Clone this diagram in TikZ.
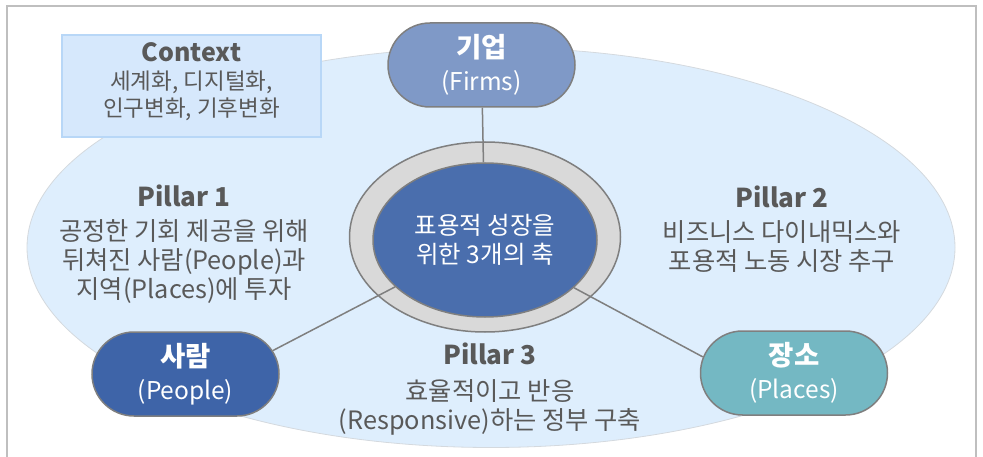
\documentclass[tikz,border=0pt]{standalone}
\usepackage{fontspec}
\setmainfont{Noto Sans CJK KR}
\usepackage{xcolor}
\usetikzlibrary{shapes.geometric, shapes.misc, positioning}

\definecolor{framegray}{HTML}{BFBFBF}
\definecolor{linegray}{HTML}{7F7F7F}
\definecolor{fieldblue}{HTML}{DEEEFD}
\definecolor{fieldline}{HTML}{D4D9DE}
\definecolor{ctxfill}{HTML}{D6E8FC}
\definecolor{ctxline}{HTML}{B8D7F7}
\definecolor{firmblue}{HTML}{7F99C7}
\definecolor{peopleblue}{HTML}{3E64A8}
\definecolor{coreblue}{HTML}{4A6EAD}
\definecolor{placeteal}{HTML}{74B8C3}
\definecolor{ringgray}{HTML}{D9D9D9}
\definecolor{txtgray}{HTML}{595959}

\newcommand{\pilhead}[1]{{\fontsize{26}{29}\selectfont\bfseries #1}}
\newcommand{\boxhead}[1]{{\fontsize{27.5}{28}\selectfont\bfseries #1}}

\tikzset{
    pillbox/.style={rounded rectangle, draw=linegray, line width=1.5pt, minimum width=187pt, minimum height=84pt,
        inner sep=0pt, text=white, align=center, font=\fontsize{24.5}{28}\selectfont},
    pillartext/.style={text=txtgray, align=center, font=\fontsize{25.3}{29}\selectfont},
    spoke/.style={draw=linegray, line width=1.5pt}
}

\begin{document}
\begin{tikzpicture}[x=1pt, y=-1pt]
                    \useasboundingbox (0,0) rectangle (983,457);
                    \draw[framegray, line width=1.2pt] (7,457) -- (7,6) -- (976,6) -- (976,457);

                    \node[ellipse, fill=fieldblue, draw=fieldline, line width=0.8pt, minimum width=928pt, minimum height=400pt] (field) at (491,247.5) {};

                    \node[fill=ctxfill, draw=ctxline, line width=1.2pt, minimum width=259pt, minimum height=102pt] (ctxbox) at (191.5,86) {};
                    \node[text=txtgray, align=center, font=\fontsize{22.5}{27.5}\selectfont] (ctx) at (191.5,82)
                        {{\fontsize{25}{27}\selectfont\bfseries Context}\\세계화, 디지털화,\\인구변화, 기후변화};

                    \node[pillartext] (p1) at (184,244) {\pilhead{Pillar 1}\\[5pt]공정한 기회 제공을 위해\\뒤쳐진 사람(People)과\\지역(Places)에 투자};
                    \node[pillartext] (p2) at (782,229) {\pilhead{Pillar 2}\\[5pt]비즈니스 다이내믹스와\\포용적 노동 시장 추구};
                    \node[pillartext] (p3) at (490,389) {\pilhead{Pillar 3}\\[7pt]효율적이고 반응\\(Responsive)하는 정부 구축};

                    \node[ellipse, fill=ringgray, draw=linegray, line width=1.5pt, minimum width=271pt, minimum height=190pt] (ring) at (485,237) {};
                    \node[ellipse, fill=coreblue, draw=linegray, line width=1.5pt, minimum width=224pt, minimum height=154pt,
                        inner sep=0pt, text=white, align=center, font=\fontsize{24.5}{29}\selectfont] (core) at (485,240)
                        {표용적 성장을\\위한 3개의 축};

                    \node[pillbox, fill=firmblue] (firms) at (481.5,65) {\boxhead{기업}\\[5pt](Firms)};
                    \node[pillbox, fill=peopleblue] (people) at (185.5,374) {\boxhead{사람}\\[5pt](People)};
                    \node[pillbox, fill=placeteal] (places) at (794,373) {\boxhead{장소}\\[5pt](Places)};

                    \draw[spoke]
                    (firms) -- (core)
                    (core) -- (people.15)
                    (core) -- (places.170);
                \end{tikzpicture}
\end{document}
